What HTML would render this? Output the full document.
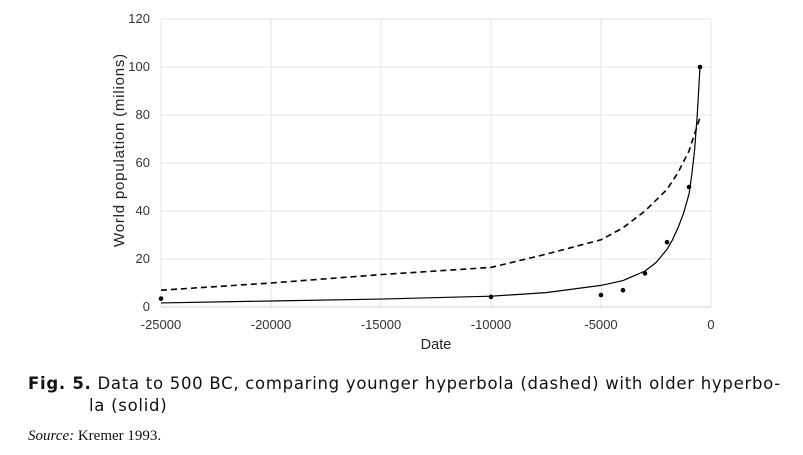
<!DOCTYPE html>
<html><head><meta charset="utf-8"><style>
body{margin:0;width:803px;height:455px;background:#fff;overflow:hidden;position:relative;font-family:"Liberation Sans",sans-serif}
.cap{position:absolute;left:28px;top:373px;font-family:"DejaVu Sans",sans-serif;font-size:16.5px;color:#111;line-height:22px;width:790px;letter-spacing:0.72px;white-space:nowrap}
.src{position:absolute;left:28px;top:428px;font-family:"Liberation Serif",serif;font-size:15px;color:#111}
</style></head><body>
<svg id="chart" width="803" height="370" style="position:absolute;left:0;top:0"></svg>
<div class="cap"><b>Fig. 5.</b> Data to 500 BC, comparing younger hyperbola (dashed) with older hyperbo-<br><span style="padding-left:61px">la (solid)</span></div>
<div class="src"><i>Source:</i> Kremer 1993.</div>
<script>
const xTicks=[-25000,-20000,-15000,-10000,-5000,0];
const yTicks=[0,20,40,60,80,100,120];
const pointX=[-25000,-10000,-5000,-4000,-3000,-2000,-1000,-500];
const pointY=[3.5,4.2,5,7,14,27,50,100];
const dashX=[-25000,-20000,-15000,-10000,-7500,-5000,-4000,-3000,-2000,-1500,-1000,-500];
const dashY=[7,10,13.5,16.5,22,28,33,40,49,56,65,79];
const solidX=[-25000,-20000,-15000,-10000,-7500,-5000,-4000,-3000,-2500,-2000,-1750,-1500,-1250,-1000,-875,-750,-625,-500];
const solidY=[1.7,2.5,3.3,4.5,6,9,11,15,18.5,24,28,33,39,47,55,65,80,100];
const svg=document.getElementById('chart');const NS='http://www.w3.org/2000/svg';
const X0=161,X1=711,Y0=307,Y1=19;
const sx=v=>X0+(v+25000)/25000*(X1-X0);
const sy=v=>Y0-v/120*(Y0-Y1);
function mk(t,a){const e=document.createElementNS(NS,t);for(const k in a)e.setAttribute(k,a[k]);svg.appendChild(e);return e;}
xTicks.forEach(t=>{
 const g=mk('line',{x1:sx(t),x2:sx(t),y1:Y1,y2:Y0,stroke:'#e3e3e3','stroke-width':1});
 
 
 const l=mk('text',{x:sx(t),y:Y0+22,'text-anchor':'middle','font-size':13,fill:'#333','font-family':'Liberation Sans,sans-serif'});l.textContent=t;
 
 
});
yTicks.forEach(t=>{
 const g=mk('line',{x1:X0,x2:X1,y1:sy(t),y2:sy(t),stroke:t===0?'#d0d0d0':'#e3e3e3','stroke-width':1});
 
 
 const l=mk('text',{x:X0-11,y:sy(t)+4,'text-anchor':'end','font-size':13,fill:'#333','font-family':'Liberation Sans,sans-serif'});l.textContent=t;
 
 
});
const xt=mk('text',{x:436,y:349,'text-anchor':'middle','font-size':14.5,fill:'#222','font-family':'Liberation Sans,sans-serif'});xt.textContent='Date';


const yt=mk('text',{x:124,y:150,'text-anchor':'middle','font-size':15,'letter-spacing':0.8,fill:'#222','font-family':'Liberation Sans,sans-serif',transform:'rotate(-90 124 150)'});yt.textContent='World population (milions)';


const dp=mk('polyline',{points:dashX.map((x,i)=>sx(x)+','+sy(dashY[i])).join(' '),fill:'none',stroke:'#000','stroke-width':1.6,'stroke-dasharray':'6,4'});


const sp=mk('polyline',{points:solidX.map((x,i)=>sx(x)+','+sy(solidY[i])).join(' '),fill:'none',stroke:'#000','stroke-width':1.2,'stroke-linejoin':'round'});


pointX.forEach((x,i)=>{
 const c=mk('circle',{cx:sx(x),cy:sy(pointY[i]),r:2.3,fill:'#000'});
 
 
});
</script>
</body></html>
